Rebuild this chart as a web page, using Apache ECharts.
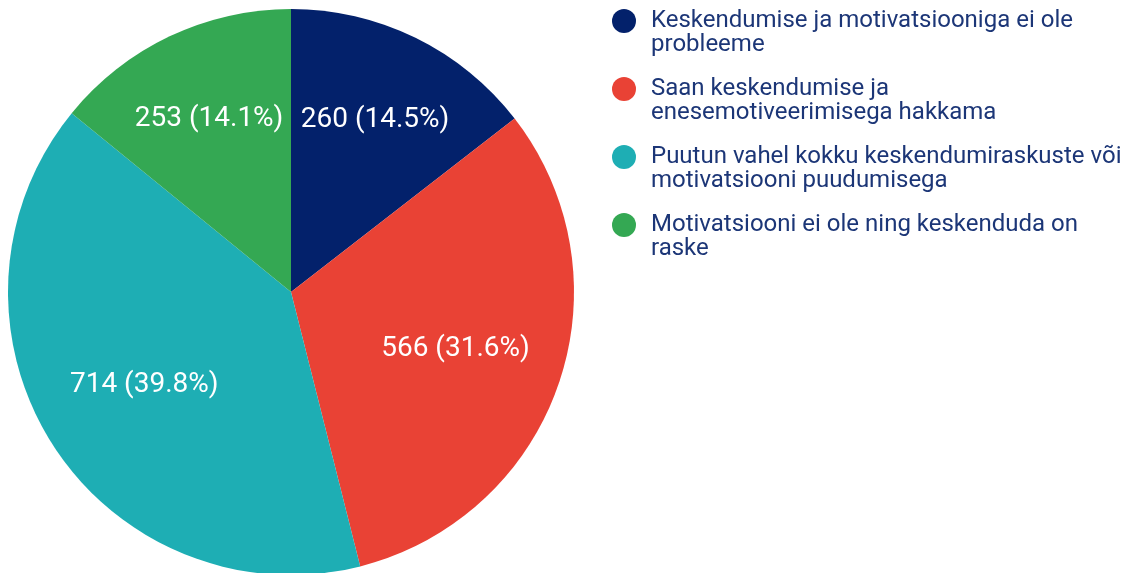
<!DOCTYPE html>
<html>
<head>
<meta charset="utf-8">
<style>
	html, body { margin: 0; padding: 0; background: #fff; }
	#chart { width: 1131px; height: 573px; }
</style>
</head>
<body>
<div id="chart"></div>
<script src="https://cdn.jsdelivr.net/npm/echarts@6/dist/echarts.min.js"></script>
<script>
var categories = [
	'Keskendumise ja motivatsiooniga ei ole probleeme',
	'Saan keskendumise ja enesemotiveerimisega hakkama',
	'Puutun vahel kokku keskendumiraskuste või motivatsiooni puudumisega',
	'Motivatsiooni ei ole ning keskenduda on raske'
];
var legendLines = [
	'Keskendumise ja motivatsiooniga ei ole\nprobleeme',
	'Saan keskendumise ja\nenesemotiveerimisega hakkama',
	'Puutun vahel kokku keskendumiraskuste või\nmotivatsiooni puudumisega',
	'Motivatsiooni ei ole ning keskenduda on\nraske'
];
var counts = [260, 566, 714, 253];
var colors = ['#03216b', '#e94235', '#1eaeb4', '#34a853'];

var total = counts.reduce(function (a, b) { return a + b; }, 0);
var chart = echarts.init(document.getElementById('chart'));

// small slices get their label further out, like the original
function labelData(small) {
	return categories.map(function (name, i) {
		var isSmall = counts[i] / total < 0.2;
		return {
			name: name,
			value: counts[i],
			label: { show: isSmall === small }
		};
	});
}

var labelStyle = {
	position: 'inside',
	color: '#fff',
	fontFamily: 'Roboto',
	fontSize: 28,
	formatter: function (p) {
		return p.value + ' (' + (p.value / total * 100).toFixed(1) + '%)';
	}
};

var option = {
	color: colors,
	animation: false,
	legend: {
		orient: 'vertical',
		left: 612,
		top: -15,
		padding: 0,
		icon: 'circle',
		itemWidth: 24,
		itemHeight: 24,
		itemGap: -4,
		data: categories,
		// blank first line keeps the icon level with the first text line
		formatter: function (name) {
			return ' \n' + legendLines[categories.indexOf(name)];
		},
		textStyle: {
			color: '#1c3677',
			fontFamily: 'Roboto',
			fontSize: 24,
			lineHeight: 24,
			padding: [0, 0, 0, 10]
		}
	},
	series: [
		{
			type: 'pie',
			center: [291, 292],
			radius: [0, 283],
			startAngle: 90,
			clockwise: true,
			silent: true,
			label: { show: false },
			labelLine: { show: false },
			data: categories.map(function (name, i) {
				return { name: name, value: counts[i] };
			})
		},
		{
			type: 'pie',
			center: [291, 292],
			radius: [0, 376],
			startAngle: 90,
			silent: true,
			itemStyle: { color: 'transparent' },
			label: labelStyle,
			labelLine: { show: false },
			data: labelData(true)
		},
		{
			type: 'pie',
			center: [291, 292],
			radius: [0, 342],
			startAngle: 90,
			silent: true,
			itemStyle: { color: 'transparent' },
			label: labelStyle,
			labelLine: { show: false },
			data: labelData(false)
		}
	]
};
chart.setOption(option);
</script>
</body>
</html>
